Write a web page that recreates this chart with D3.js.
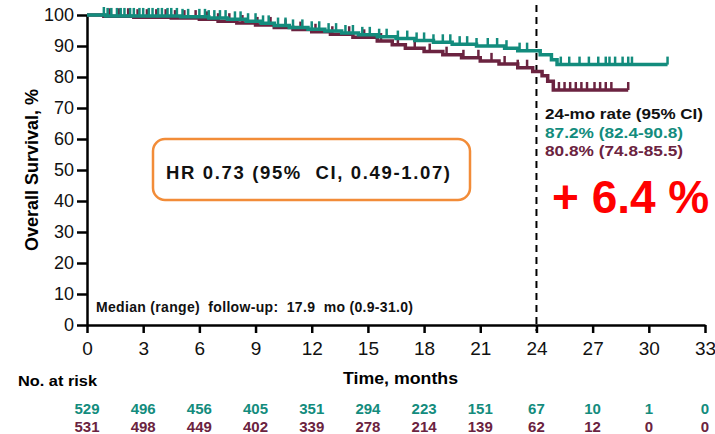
<!DOCTYPE html>
<html>
<head>
<meta charset="utf-8">
<script src="https://cdn.jsdelivr.net/npm/d3@7"></script>
<style>
  html, body { margin: 0; padding: 0; background: #fff; }
  svg { display: block; font-family: "Liberation Sans", Arial, sans-serif; }
</style>
</head>
<body>
<svg id="chart" width="715" height="434"></svg>
<script>
// ---------------- DATA ----------------
const xTicks = [0, 3, 6, 9, 12, 15, 18, 21, 24, 27, 30, 33];
const yTicks = [0, 10, 20, 30, 40, 50, 60, 70, 80, 90, 100];

// Kaplan-Meier step points [month, survival %]
const tealSteps = [
  [0, 100], [1.0, 99.7], [5.0, 99.4], [6.5, 99.0], [7.5, 98.6], [8.5, 98.0],
  [9.3, 97.3], [10.0, 96.6], [10.8, 96.0], [11.8, 95.4], [12.7, 94.8],
  [13.6, 94.2], [14.5, 93.6], [15.5, 93.0], [16.5, 92.4], [17.5, 91.8],
  [18.5, 91.2], [19.5, 90.6], [20.8, 90.0], [22.3, 89.3], [23.0, 88.5],
  [24.2, 87.2], [24.8, 85.6], [25.1, 84.0]
];
const tealEnd = 31.0;
const tealCensor = [
  0.9, 1.1, 1.3, 1.6, 1.8, 2.0, 2.3, 2.5, 2.8, 3.0, 3.3, 3.5, 3.8, 4.0, 4.3,
  4.5, 4.8, 5.1, 5.4, 6.0, 6.3, 6.5, 6.8, 7.1, 7.4, 7.9, 8.2, 8.6, 9.0, 9.4,
  9.7, 10.2, 10.6, 11.0, 11.5, 12.0, 12.4, 12.9, 13.3, 13.8, 14.2, 14.7, 15.1,
  15.6, 16.0, 16.6, 17.1, 17.6, 18.0, 18.5, 19.0, 19.4, 19.9, 20.3, 20.8,
  21.4, 21.9, 22.4, 23.1, 23.5, 25.3, 25.75, 26.3, 26.8, 27.3, 27.7, 27.9,
  28.2, 28.6, 28.9, 29.1, 31.0
];

const maroonSteps = [
  [0, 100], [0.9, 99.6], [2.5, 99.3], [4.5, 99.0], [6.0, 98.6], [7.0, 98.0],
  [8.0, 97.4], [9.0, 96.8], [10.0, 96.0], [11.0, 95.3], [12.0, 94.6],
  [13.0, 93.8], [14.2, 92.8], [15.5, 91.6], [16.3, 90.4], [17.0, 89.3],
  [18.0, 88.2], [19.0, 87.2], [20.0, 86.2], [21.0, 85.2], [22.0, 84.2],
  [23.0, 83.0], [23.8, 81.8], [24.3, 80.4], [24.6, 78.6], [24.9, 75.8]
];
const maroonEnd = 28.9;
const maroonCensor = [
  1.2, 1.7, 2.2, 2.7, 3.2, 3.7, 4.2, 4.7, 5.2, 5.8, 6.4, 7.0, 7.6, 8.3, 9.1,
  9.8, 10.6, 11.4, 12.2, 13.1, 14.0, 14.8, 15.7, 16.6, 17.5, 18.3, 19.2, 20.1,
  20.9, 21.6, 22.3, 23.0, 23.5, 25.2, 25.5, 25.8, 26.1, 26.4, 26.7, 27.1,
  27.4, 27.7, 28.0, 28.9
];

const riskTeal = [529, 496, 456, 405, 351, 294, 223, 151, 67, 10, 1, 0];
const riskMaroon = [531, 498, 449, 402, 339, 278, 214, 139, 62, 12, 0, 0];

const rateLines = ["24-mo rate (95% CI)", "87.2% (82.4-90.8)", "80.8% (74.8-85.5)"];
const hrText = "HR 0.73 (95%  CI, 0.49-1.07)";
const followText = "Median (range)  follow-up:  17.9  mo (0.9-31.0)";
const diffText = "+ 6.4 %";
const landmark = 24;

// ---------------- STYLE ----------------
const TEAL = "#138c7d";
const MAROON = "#6b2340";

const svg = d3.select("#chart");
const x = d3.scaleLinear().domain([0, 33]).range([87, 705]);
const y = d3.scaleLinear().domain([0, 100]).range([325, 15]);

// y axis
const yAxis = svg.append("g").attr("transform", `translate(${x(0)},0)`)
  .call(d3.axisLeft(y).tickValues(yTicks).tickSize(10).tickPadding(3).tickSizeOuter(0));
yAxis.select(".domain").attr("stroke", "#000").attr("stroke-width", 2.5);
yAxis.selectAll(".tick line").attr("stroke", "#000").attr("stroke-width", 2.5);
yAxis.selectAll(".tick text").attr("font-size", 18).attr("fill", "#111")
  .attr("font-family", "Liberation Sans, Arial, sans-serif");

// x axis
const xAxis = svg.append("g").attr("transform", `translate(0,${y(0)})`)
  .call(d3.axisBottom(x).tickValues(xTicks).tickSize(8).tickPadding(9).tickSizeOuter(0));
xAxis.select(".domain").attr("stroke", "#000").attr("stroke-width", 2.5);
xAxis.selectAll(".tick line").attr("stroke", "#000").attr("stroke-width", 2.5);
xAxis.selectAll(".tick text").attr("font-size", 19).attr("fill", "#111")
  .attr("font-family", "Liberation Sans, Arial, sans-serif");

// landmark dashed line
svg.append("line")
  .attr("x1", x(landmark)).attr("x2", x(landmark))
  .attr("y1", 5).attr("y2", y(0) + 6)
  .attr("stroke", "#000").attr("stroke-width", 2).attr("stroke-dasharray", "7,5");

// KM curves
const line = d3.line().x(d => x(d[0])).y(d => y(d[1])).curve(d3.curveStepAfter);
function survAt(steps, t) {
  const i = d3.bisector(d => d[0]).right(steps, t) - 1;
  return steps[Math.max(0, i)][1];
}
function drawCurve(steps, end, censor, color) {
  const pts = steps.concat([[end, steps[steps.length - 1][1]]]);
  svg.append("path").datum(pts)
    .attr("d", line).attr("fill", "none")
    .attr("stroke", color).attr("stroke-width", 3.5);
  svg.append("g").selectAll("line").data(censor).join("line")
    .attr("x1", d => x(d)).attr("x2", d => x(d))
    .attr("y1", d => y(survAt(steps, d)))
    .attr("y2", d => y(survAt(steps, d)) - 8)
    .attr("stroke", color).attr("stroke-width", 2.5);
}
drawCurve(maroonSteps, maroonEnd, maroonCensor, MAROON);
drawCurve(tealSteps, tealEnd, tealCensor, TEAL);

// axis titles
svg.append("text")
  .attr("transform", "translate(38,170) rotate(-90)")
  .attr("text-anchor", "middle").attr("font-size", 18).attr("font-weight", "bold")
  .text("Overall Survival, %");
svg.append("text").attr("x", 343).attr("y", 384)
  .attr("font-size", 17).attr("font-weight", "bold")
  .attr("textLength", 115).attr("lengthAdjust", "spacingAndGlyphs")
  .text("Time, months");
svg.append("text").attr("x", 18).attr("y", 386)
  .attr("font-size", 15.5).attr("font-weight", "bold")
  .attr("textLength", 79).attr("lengthAdjust", "spacingAndGlyphs")
  .text("No. at risk");

// risk table
svg.append("g").selectAll("text").data(riskTeal).join("text")
  .attr("x", (d, i) => x(xTicks[i])).attr("y", 414)
  .attr("text-anchor", "middle").attr("font-size", 15).attr("font-weight", "bold")
  .attr("fill", TEAL).text(d => d);
svg.append("g").selectAll("text").data(riskMaroon).join("text")
  .attr("x", (d, i) => x(xTicks[i])).attr("y", 432)
  .attr("text-anchor", "middle").attr("font-size", 15).attr("font-weight", "bold")
  .attr("fill", MAROON).text(d => d);

// HR box
svg.append("rect").attr("x", 153).attr("y", 139).attr("width", 317).attr("height", 61)
  .attr("rx", 12).attr("ry", 12)
  .attr("fill", "none").attr("stroke", "#f28c38").attr("stroke-width", 2.5);
svg.append("text").attr("x", 166).attr("y", 179)
  .attr("font-size", 18.5).attr("font-weight", "bold").attr("fill", "#111")
  .attr("textLength", 284).attr("lengthAdjust", "spacing")
  .style("white-space", "pre").text(hrText);

// follow-up text
svg.append("text").attr("x", 96).attr("y", 312)
  .attr("font-size", 14).attr("font-weight", "bold").attr("fill", "#111")
  .attr("textLength", 317).attr("lengthAdjust", "spacing")
  .style("white-space", "pre").text(followText);

// 24-mo rates
const rateColors = ["#111", TEAL, MAROON];
const rateLen = [158, 138, 138];
svg.append("g").selectAll("text").data(rateLines).join("text")
  .attr("x", 545).attr("y", (d, i) => 119 + i * 18.5)
  .attr("font-size", 15.5).attr("font-weight", "bold")
  .attr("textLength", (d, i) => rateLen[i]).attr("lengthAdjust", "spacingAndGlyphs")
  .attr("fill", (d, i) => rateColors[i]).text(d => d);

// difference
svg.append("text").attr("x", 552).attr("y", 213)
  .attr("font-size", 46).attr("font-weight", "bold").attr("fill", "#ff0000")
  .style("white-space", "pre").text(diffText);
</script>
</body>
</html>
